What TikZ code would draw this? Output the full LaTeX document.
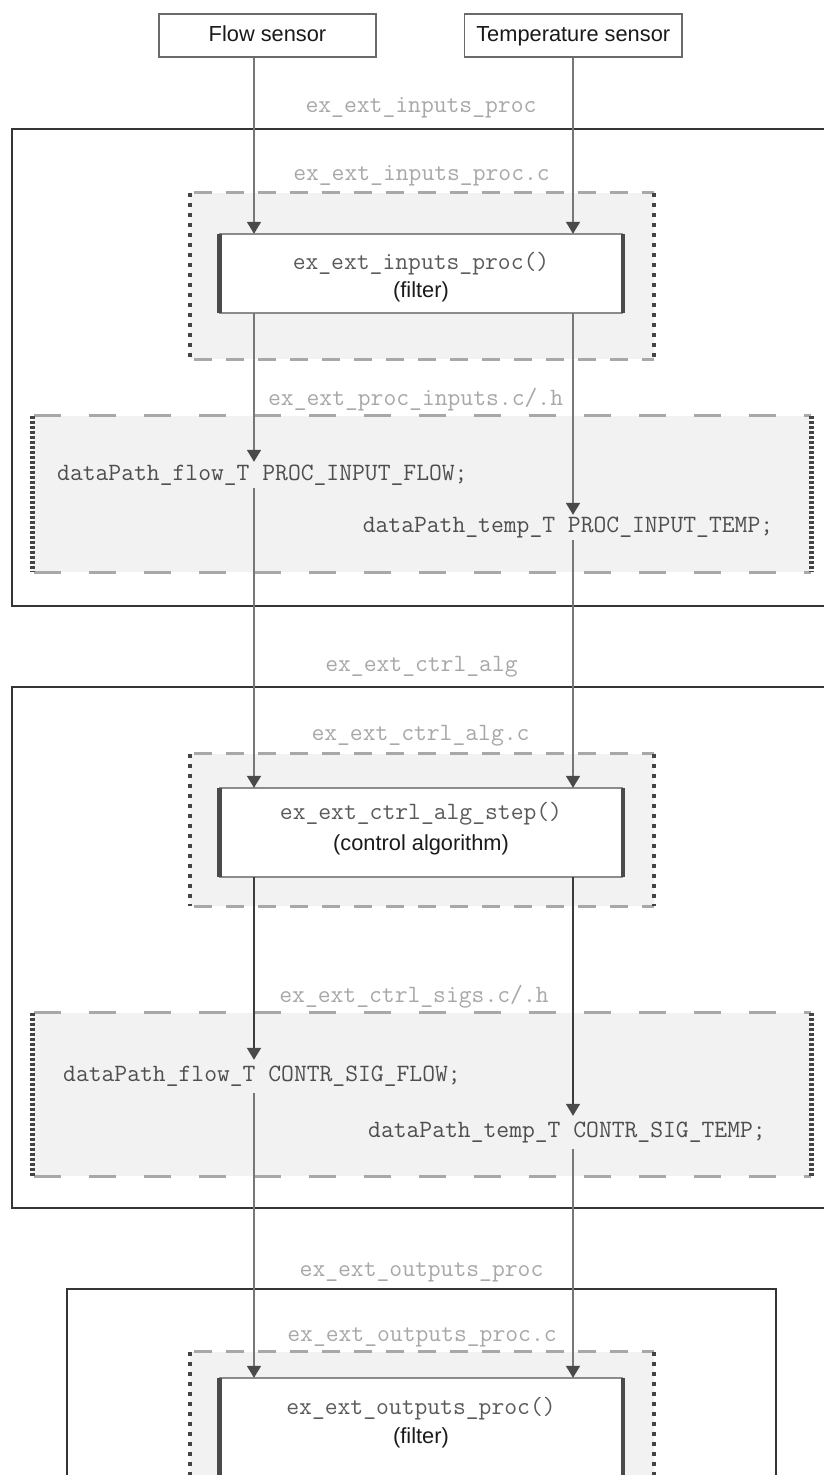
\documentclass[tikz,border=0pt]{standalone}
\usepackage{fontspec}
\setmainfont{Liberation Sans}
\newfontfamily\sansfnt{Liberation Sans}
\usetikzlibrary{arrows.meta}
\definecolor{lblgray}{HTML}{A8A8A8}
\definecolor{fngray}{HTML}{5A5A5A}
\definecolor{datagray}{HTML}{4E4E4E}
\definecolor{sanscol}{HTML}{1A1A1A}
\definecolor{filefill}{HTML}{F2F2F2}
\definecolor{dashcol}{HTML}{A8A8A8}
\definecolor{dotcol}{HTML}{444444}
\definecolor{outercol}{HTML}{353535}
\definecolor{conncol}{HTML}{777777}
\definecolor{conndk}{HTML}{3C3C3C}
\definecolor{tipcol}{HTML}{4A4A4A}
\definecolor{fbthin}{HTML}{8C8C8C}
\definecolor{fbthick}{HTML}{4A4A4A}
\definecolor{sensorcol}{HTML}{6A6A6A}
\begin{document}
\begin{tikzpicture}[x=1pt,y=-1pt,
  sanstxt/.style={font=\sansfnt\fontsize{21.8}{26}\selectfont, text=sanscol, inner sep=0pt},
  monolbl/.style={font=\ttfamily\fontsize{24.9}{28}\selectfont, text=lblgray, inner sep=0pt},
  fntxt/.style={font=\ttfamily\fontsize{24.9}{28}\selectfont, text=fngray, inner sep=0pt},
  datatxt/.style={font=\ttfamily\fontsize{24.9}{28}\selectfont, text=datagray, inner xsep=0pt, inner ysep=0pt, anchor=west},
  sensor/.style={draw=sensorcol, line width=1.8pt, fill=white, rectangle, minimum height=43pt, inner sep=0pt,
    text height=16pt, text depth=5pt,
    font=\sansfnt\fontsize{21.8}{26}\selectfont, text=sanscol},
  outerbox/.style={draw=outercol, line width=2.2pt, rectangle, inner sep=0pt},
  filebox/.style={fill=filefill, rectangle, inner sep=0pt},
  hdashS/.style={draw=dashcol, line width=3pt, dash pattern=on 18pt off 14pt, dash phase=-4pt},
  vdotS/.style={draw=dotcol, line width=3.6pt, dash pattern=on 4pt off 6pt},
  hdashL/.style={draw=dashcol, line width=3pt, dash pattern=on 27pt off 28pt, dash phase=-2pt},
  vdotL/.style={draw=dotcol, line width=5pt, dash pattern=on 3pt off 2pt},
  fnbox/.style={fill=white, rectangle, inner sep=0pt, minimum width=403.4pt},
  fbtop/.style={draw=fbthin, line width=1.8pt},
  fbside/.style={draw=fbthick, line width=4.5pt},
  conn/.style={draw=conncol, line width=1.8pt, -{Triangle[length=12pt,width=14pt,fill=tipcol,color=tipcol]}},
  conndark/.style={draw=conndk, line width=2pt, -{Triangle[length=12pt,width=14pt,fill=tipcol,color=tipcol]}},
]
\useasboundingbox (0,0) rectangle (824,1475);
\clip (0,0) rectangle (824,1475);
\fill[white] (0,0) rectangle (824,1475);

% ---------- sensors ----------
\node[sensor, minimum width=217pt] (fs) at (267.5,35.5) {Flow sensor};
\node[sensor, minimum width=217.5pt] (ts) at (573.25,35.5) {Temperature sensor};
\coordinate (fx) at (254,0);
\coordinate (tx) at (573,0);

% ---------- section 1 ----------
\node[monolbl] (l1) at (421,108) {ex\_ext\_inputs\_proc};
\node[outerbox, minimum width=828.4pt, minimum height=477pt] (o1) at (425.8,367.5) {};
\node[monolbl] (l2) at (421.5,176) {ex\_ext\_inputs\_proc.c};
\node[filebox, minimum width=464pt, minimum height=166pt] (d1) at (422,276) {};
\draw[hdashS] (d1.north west) -- (d1.north east) (d1.south west) -- (d1.south east);
\draw[vdotS] (d1.north west) -- (d1.south west) (d1.north east) -- (d1.south east);
\node[fnbox, minimum height=79pt] (fb1) at (421.3,273.5) {};
\draw[fbtop] (fb1.north west) -- (fb1.north east) (fb1.south west) -- (fb1.south east);
\draw[fbside] (fb1.north west) -- (fb1.south west) (fb1.north east) -- (fb1.south east);
\node[fntxt] (fb1a) at (421,264) {ex\_ext\_inputs\_proc()};
\node[sanstxt] (fb1b) at (421,292) {(filter)};

\node[monolbl] (l3) at (415.6,400) {ex\_ext\_proc\_inputs.c/.h};
\node[filebox, minimum width=778.4pt, minimum height=156pt] (d2) at (421.8,494) {};
\draw[hdashL] (d2.north west) -- (d2.north east) (d2.south west) -- (d2.south east);
\draw[vdotL] (d2.north west) -- (d2.south west) (d2.north east) -- (d2.south east);
\node[datatxt, minimum height=26pt] (ft1) at (57,475) {dataPath\_flow\_T PROC\_INPUT\_FLOW;};
\node[datatxt, minimum height=25pt] (tt1) at (362.6,527.5) {dataPath\_temp\_T PROC\_INPUT\_TEMP;};

% ---------- section 2 ----------
\node[monolbl] (l4) at (421.5,667) {ex\_ext\_ctrl\_alg};
\node[outerbox, minimum width=828.4pt, minimum height=521pt] (o2) at (425.8,947.5) {};
\node[monolbl] (l5) at (420.5,736) {ex\_ext\_ctrl\_alg.c};
\node[filebox, minimum width=464pt, minimum height=152pt] (d3) at (422,830) {};
\draw[hdashS] (d3.north west) -- (d3.north east) (d3.south west) -- (d3.south east);
\draw[vdotS] (d3.north west) -- (d3.south west) (d3.north east) -- (d3.south east);
\node[fnbox, minimum height=89pt] (fb2) at (421.3,832.5) {};
\draw[fbtop] (fb2.north west) -- (fb2.north east) (fb2.south west) -- (fb2.south east);
\draw[fbside] (fb2.north west) -- (fb2.south west) (fb2.north east) -- (fb2.south east);
\node[fntxt] (fb2a) at (421,814) {ex\_ext\_ctrl\_alg\_step()};
\node[sanstxt] (fb2b) at (421,845) {(control algorithm)};

\node[monolbl] (l6) at (414,997) {ex\_ext\_ctrl\_sigs.c/.h};
\node[filebox, minimum width=778.4pt, minimum height=163.3pt] (d4) at (421.8,1094.4) {};
\draw[hdashL] (d4.north west) -- (d4.north east) (d4.south west) -- (d4.south east);
\draw[vdotL] (d4.north west) -- (d4.south west) (d4.north east) -- (d4.south east);
\node[datatxt, minimum height=33pt] (ft2) at (63,1076.5) {dataPath\_flow\_T CONTR\_SIG\_FLOW;};
\node[datatxt, minimum height=33pt] (tt2) at (368,1132.5) {dataPath\_temp\_T CONTR\_SIG\_TEMP;};

% ---------- section 3 ----------
\node[monolbl] (l7) at (421.5,1272) {ex\_ext\_outputs\_proc};
\node[outerbox, minimum width=708.9pt, minimum height=211pt] (o3) at (421.15,1394.5) {};
\node[monolbl] (l8) at (422,1337) {ex\_ext\_outputs\_proc.c};
\node[filebox, minimum width=464pt, minimum height=148pt] (d5) at (422,1426) {};
\draw[hdashS] (d5.north west) -- (d5.north east) (d5.south west) -- (d5.south east);
\draw[vdotS] (d5.north west) -- (d5.south west) (d5.north east) -- (d5.south east);
\node[fnbox, minimum height=122pt] (fb3) at (421.3,1439) {};
\draw[fbtop] (fb3.north west) -- (fb3.north east) (fb3.south west) -- (fb3.south east);
\draw[fbside] (fb3.north west) -- (fb3.south west) (fb3.north east) -- (fb3.south east);
\node[fntxt] (fb3a) at (421,1409) {ex\_ext\_outputs\_proc()};
\node[sanstxt] (fb3b) at (421,1438) {(filter)};

% ---------- connectors ----------
\draw[conn] (fs.south -| fx) -- (fb1.north -| fx);
\draw[conn] (ts.south -| tx) -- (fb1.north -| tx);
\draw[conn] (fb1.south -| fx) -- (ft1.north -| fx);
\draw[conn] (fb1.south -| tx) -- (tt1.north -| tx);
\draw[conn] (ft1.south -| fx) -- (fb2.north -| fx);
\draw[conn] (tt1.south -| tx) -- (fb2.north -| tx);
\draw[conndark] (fb2.south -| fx) -- (ft2.north -| fx);
\draw[conndark, line width=1.5pt] (fb2.south -| tx) -- (tt2.north -| tx);
\draw[conn] (ft2.south -| fx) -- (fb3.north -| fx);
\draw[conn] (tt2.south -| tx) -- (fb3.north -| tx);
\end{tikzpicture}
\end{document}
